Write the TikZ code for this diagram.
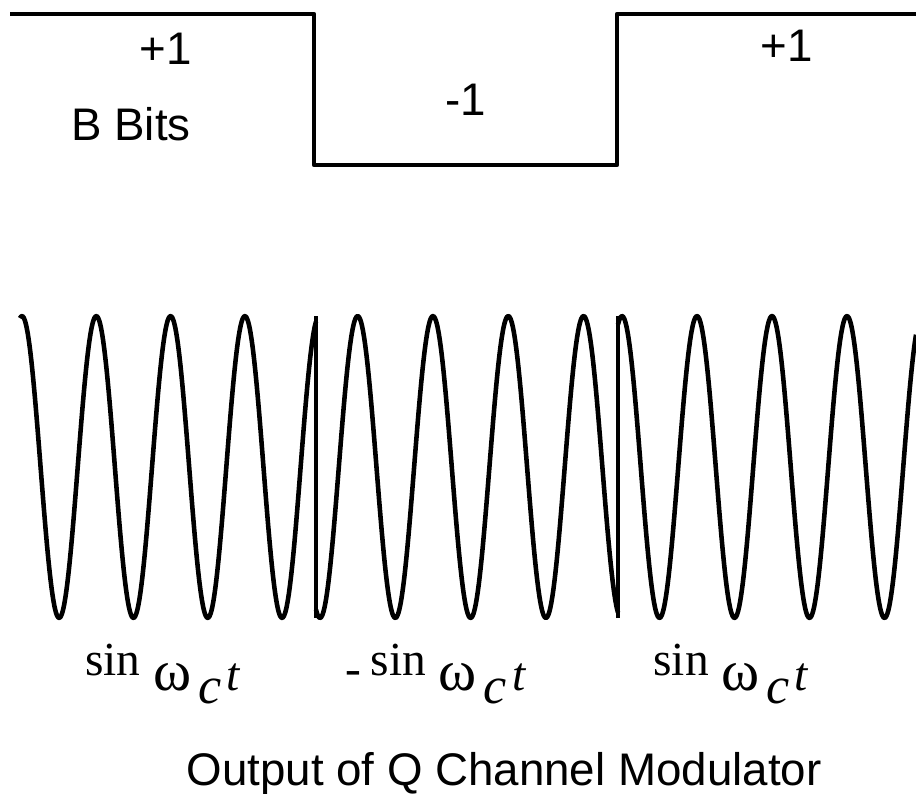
\documentclass[tikz,border=0pt]{standalone}
\usepackage{fontspec}
\setmainfont{Liberation Serif}
\newfontfamily\labelsans{Liberation Sans}
\usetikzlibrary{positioning}

\tikzset{
  wave/.style={line width=2.6pt, black, line join=round},
  bitlabel/.style={font=\labelsans\fontsize{26}{30}\selectfont, inner sep=0pt, anchor=base},
  carrierlabel/.style={font=\fontsize{27}{30}\selectfont, inner sep=0pt, anchor=base west}
}
\newcommand{\sinwct}{\raisebox{8.5pt}{sin}\hspace{7pt}\scalebox{1.22}{ω}\hspace{4pt}\raisebox{-7.4pt}{\scalebox{1.1}{\textit{c}}}\hspace{3pt}\textit{t}}

\begin{document}
\begin{tikzpicture}[x=0.02cm, y=-0.02cm]
  \useasboundingbox (0,0) rectangle (916,794);
  % B bits
  \draw[wave, line width=2.4pt] (10,14) -- (314,14) -- (314,165) -- (617,165) -- (617,14) -- (916,14);
  \node[bitlabel] (plusA) at (166,65) {+1};
  \node[bitlabel] (bits) at (131,140) {B Bits};
  \node[bitlabel] (minus) at (466,115) {-1};
  \node[bitlabel] (plusB) at (787,62) {+1};
  % Q channel carrier, one segment per bit
  \draw[wave] plot[domain=20:316, samples=240, smooth] (\x, {467-151*cos(4.8452*(\x-22))});
  \draw[wave] (316,316) -- (316,618);
  \draw[wave] plot[domain=316:618, samples=240, smooth] (\x, {467+151*cos(4.7809*(\x-320))});
  \draw[wave] (618,618) -- (618,316);
  \draw[wave] plot[domain=618:916, samples=240, smooth] (\x, {467-151*cos(4.8*(\x-622))});
  % carrier labels
  \node[carrierlabel] (sinA) at (85,690) {\sinwct};
  \node[carrierlabel] (sinB) at (345,690) {\raisebox{3.4pt}{-}\hspace{5.5pt}\sinwct};
  \node[carrierlabel] (sinC) at (653,690) {\sinwct};
  \node[bitlabel] (title) at (504,785) {Output of Q Channel Modulator};
\end{tikzpicture}
\end{document}
